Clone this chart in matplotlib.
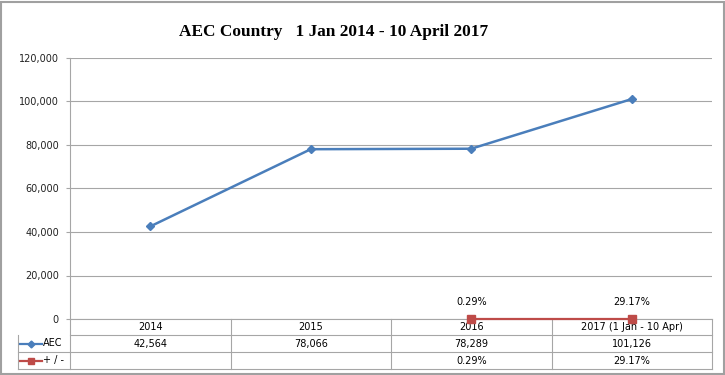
import matplotlib
matplotlib.use('Agg')
import matplotlib.pyplot as plt
from matplotlib.patches import Rectangle
from matplotlib.lines import Line2D
import matplotlib.transforms as mtransforms

# data
categories = ['2014', '2015', '2016', '2017 (1 Jan - 10 Apr)']
aec_values = [42564, 78066, 78289, 101126]
change_pct = [None, None, 0.29, 29.17]
yticks = [0, 20000, 40000, 60000, 80000, 100000, 120000]

BLUE = '#4A7EBB'
RED = '#BE4B48'
GRID = '#A6A6A6'
FS = 7


def fmt_thousands(v):
    return '{:,}'.format(v)


def main():
    fig = plt.figure(figsize=(7.25, 3.75), dpi=100, facecolor='w')
    ax = fig.add_axes([70 / 725, 1 - 319 / 375, 642 / 725, 261 / 375])

    x = list(range(len(categories)))
    ax.plot(x, aec_values, color=BLUE, lw=1.8, marker='D', markersize=4.5,
            clip_on=False, zorder=3)

    # the +/- series is plotted on the same axis, so it sits on zero
    cx = [i for i, v in zip(x, change_pct) if v is not None]
    cy = [v / 100 for v in change_pct if v is not None]
    ax.plot(cx, cy, color=RED, lw=1.6, marker='s', markersize=5.5,
            clip_on=False, zorder=4)
    for i, v in zip(cx, [v for v in change_pct if v is not None]):
        ax.annotate('%.2f%%' % v, (i, 0), xytext=(0, 12), textcoords='offset points',
                    ha='center', va='center', fontsize=FS)

    ax.set_xlim(-0.5, len(categories) - 0.5)
    ax.set_ylim(0, 120000)
    ax.set_yticks(yticks)
    ax.set_yticklabels([fmt_thousands(v) for v in yticks], fontsize=FS, color='#222222')
    ax.set_xticks([])
    ax.tick_params(axis='y', length=3, color=GRID, pad=5)
    ax.grid(axis='y', color=GRID, lw=0.8)
    ax.set_axisbelow(True)
    for s in ['top', 'right', 'bottom']:
        ax.spines[s].set_visible(False)
    ax.spines['left'].set_color(GRID)
    ax.spines['left'].set_linewidth(0.8)

    # data table under the plot
    trans = mtransforms.blended_transform_factory(ax.transData, ax.transAxes)
    h = 1 / 261
    y_head = -16 * h
    y_r1 = -33 * h
    y_r2 = -50 * h
    left = -52 / 642
    kw = dict(color=GRID, lw=0.8, clip_on=False)
    for yy in [y_head, y_r1, y_r2]:
        xs = left if yy != y_head else 0
        ax.add_line(Line2D([xs, 1], [yy, yy], transform=ax.transAxes, **kw))
    ax.add_line(Line2D([0, 1], [0, 0], transform=ax.transAxes, **kw))
    ax.add_line(Line2D([left, left], [y_head, y_r2], transform=ax.transAxes, **kw))
    for b in [i + 0.5 for i in x]:
        ax.add_line(Line2D([b, b], [0, y_r2], transform=trans, **kw))
    ax.add_line(Line2D([0, 0], [0, y_r2], transform=ax.transAxes, **kw))

    for i, c in enumerate(categories):
        ax.text(i, y_head / 2, c, transform=trans, ha='center', va='center', fontsize=FS)
        ax.text(i, (y_head + y_r1) / 2, fmt_thousands(aec_values[i]), transform=trans,
                ha='center', va='center', fontsize=FS)
        if change_pct[i] is not None:
            ax.text(i, (y_r1 + y_r2) / 2, '%.2f%%' % change_pct[i], transform=trans,
                    ha='center', va='center', fontsize=FS)

    # legend keys inside the first column
    for yy, col, mk, ms, lab in [((y_head + y_r1) / 2, BLUE, 'D', 3.5, 'AEC'),
                                 ((y_r1 + y_r2) / 2, RED, 's', 4.5, '+ / -')]:
        ax.add_line(Line2D([-50 / 642, -28 / 642], [yy, yy], transform=ax.transAxes,
                           color=col, lw=1.6, clip_on=False))
        ax.add_line(Line2D([-39 / 642], [yy], transform=ax.transAxes, color=col,
                           marker=mk, markersize=ms, clip_on=False))
        ax.text(-27 / 642, yy, lab, transform=ax.transAxes, ha='left', va='center',
                fontsize=FS)

    fig.text(334 / 725, 1 - 32 / 375, 'AEC Country   1 Jan 2014 - 10 April 2017',
             ha='center', va='center', fontsize=12.4, fontweight='bold',
             family='Liberation Serif')

    fig.patches.append(Rectangle((0.001, 0.002), 0.997, 0.994, transform=fig.transFigure,
                                 fill=False, edgecolor='#A0A0A0', lw=1.5))

    fig.savefig('out.png', dpi=100)


if __name__ == '__main__':
    main()
